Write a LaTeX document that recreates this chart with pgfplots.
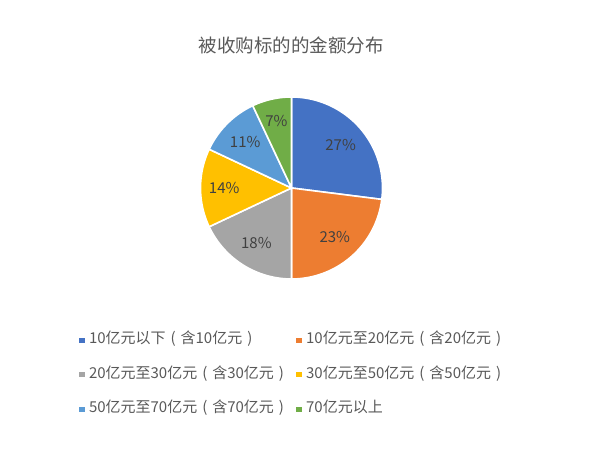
\documentclass[border=0pt]{standalone}
\usepackage{fontspec}
\setmainfont{Noto Sans CJK SC}
\usepackage{pgfplots}
\pgfplotsset{compat=1.18}

\definecolor{c1}{HTML}{4472C4}
\definecolor{c2}{HTML}{ED7D31}
\definecolor{c3}{HTML}{A5A5A5}
\definecolor{c4}{HTML}{FFC000}
\definecolor{c5}{HTML}{5B9BD5}
\definecolor{c6}{HTML}{70AD47}
\definecolor{txt}{HTML}{595959}
\definecolor{lbl}{HTML}{404040}

% centred full-width brackets, as in the original legend
\newcommand\lp{\makebox[1em]{(}}
\newcommand\rp{\makebox[1em]{)}}

% shares: 27, 23, 18, 14, 11, 7 (%), clockwise from 12 o'clock
\begin{document}
\begin{tikzpicture}[x=1pt,y=1pt]
\path[use as bounding box] (0,0) rectangle (600,457);
\node[font=\fontsize{18.5}{22}\selectfont, text=txt] at (291,412) {被收购标的的金额分布};
\begin{axis}[
  at={(291.5pt,269pt)}, anchor=origin,
  x=91pt, y=91pt,
  xmin=-1, xmax=1, ymin=-1, ymax=1,
  hide axis, clip=false,
  legend columns=2,
  legend cell align=left,
  legend image code/.code={\fill[#1, draw=none] (0pt,-2.6pt) rectangle (5.2pt,2.6pt);},
  legend style={draw=none, fill=none, inner sep=0pt,
    at={(axis description cs:-0.667,-0.288)}, anchor=north west,
    font=\fontsize{15}{17}\selectfont, text=txt,
    nodes={text height=10pt, text depth=3pt},
    row sep=17.5pt,
    /tikz/every odd column/.append style={column sep=2.5pt},
    /tikz/every even column/.append style={column sep=5.5pt}},
  every axis plot/.append style={draw=white, line width=1.6pt, line join=round, samples=80},
]
\addplot[fill=c1, domain=-7.2:90]     ({cos(x)},{sin(x)}) -- (axis cs:0,0) -- cycle;
\addlegendentry{10亿元以下\lp 含10亿元\rp}
\addplot[fill=c2, domain=-90:-7.2]    ({cos(x)},{sin(x)}) -- (axis cs:0,0) -- cycle;
\addlegendentry{10亿元至20亿元\lp 含20亿元\rp}
\addplot[fill=c3, domain=-154.8:-90]  ({cos(x)},{sin(x)}) -- (axis cs:0,0) -- cycle;
\addlegendentry{20亿元至30亿元\lp 含30亿元\rp}
\addplot[fill=c4, domain=-205.2:-154.8] ({cos(x)},{sin(x)}) -- (axis cs:0,0) -- cycle;
\addlegendentry{30亿元至50亿元\lp 含50亿元\rp}
\addplot[fill=c5, domain=-244.8:-205.2] ({cos(x)},{sin(x)}) -- (axis cs:0,0) -- cycle;
\addlegendentry{50亿元至70亿元\lp 含70亿元\rp}
\addplot[fill=c6, domain=-270:-244.8] ({cos(x)},{sin(x)}) -- (axis cs:0,0) -- cycle;
\addlegendentry{70亿元以上}

\begin{scope}[every node/.style={font=\fontsize{15}{17}\selectfont, text=lbl}]
\node at (axis cs:{0.72*cos(41.4)},{0.72*sin(41.4)}) {27\%};
\node at (axis cs:{0.72*cos(-48.6)},{0.72*sin(-48.6)}) {23\%};
\node at (axis cs:{0.72*cos(-122.4)},{0.72*sin(-122.4)}) {18\%};
\node at (axis cs:{0.74*cos(-180)},{0.74*sin(-180)}) {14\%};
\node at (axis cs:{0.72*cos(-225)},{0.72*sin(-225)}) {11\%};
\node at (axis cs:{0.76*cos(-257.4)},{0.76*sin(-257.4)}) {7\%};
\end{scope}
\end{axis}
\end{tikzpicture}
\end{document}
